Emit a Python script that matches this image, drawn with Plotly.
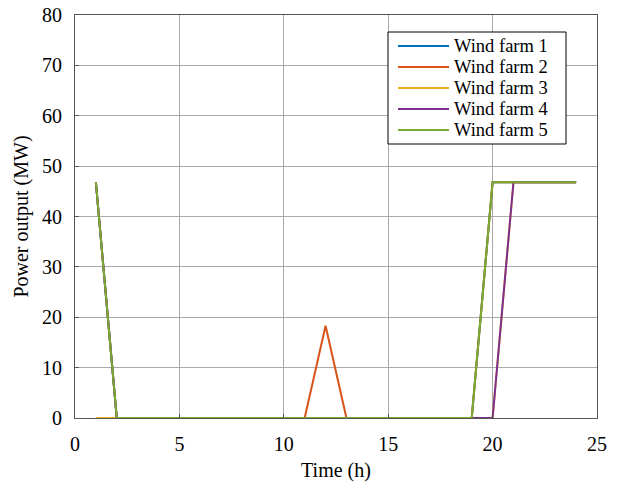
import plotly.graph_objects as go

hours = list(range(1, 25))
wf1 = [46.8, 0, 0, 0, 0, 0, 0, 0, 0, 0, 0, 0, 0, 0, 0, 0, 0, 0, 0, 46.8, 46.8, 46.8, 46.8, 46.8]
wf2 = [46.8, 0, 0, 0, 0, 0, 0, 0, 0, 0, 0, 18.3, 0, 0, 0, 0, 0, 0, 0, 46.8, 46.8, 46.8, 46.8, 46.8]
wf3 = [0, 0, 0, 0, 0, 0, 0, 0, 0, 0, 0, 0, 0, 0, 0, 0, 0, 0, 0, 0, 46.8, 46.8, 46.8, 46.8]
wf4 = [46.8, 0, 0, 0, 0, 0, 0, 0, 0, 0, 0, 0, 0, 0, 0, 0, 0, 0, 0, 0, 46.8, 46.8, 46.8, 46.8]
wf5 = [46.8, 0, 0, 0, 0, 0, 0, 0, 0, 0, 0, 0, 0, 0, 0, 0, 0, 0, 0, 46.8, 46.8, 46.8, 46.8, 46.8]

names = ["Wind farm 1", "Wind farm 2", "Wind farm 3", "Wind farm 4", "Wind farm 5"]
series = [wf1, wf2, wf3, wf4, wf5]
colors = ["#0072BD", "#D95319", "#EDB120", "#7E2F8E", "#77AC30"]

W, H = 618, 484
L, R, T, B = 75, 21, 15, 66
PW, PH = W - L - R, H - T - B


def px(xp):
    return (xp - L) / PW


def py(yp):
    return (H - B - yp) / PH


fig = go.Figure()
for n, s, c in zip(names, series, colors):
    fig.add_trace(go.Scatter(x=hours, y=s, mode="lines", name=n, showlegend=False,
                             line=dict(color=c, width=2)))

FAM = "Liberation Serif, Times New Roman, serif"
font = dict(family=FAM, size=20, color="black")

# legend drawn as a box with sample lines and labels
ROW0, ROWH = 46, 21
shapes = [dict(type="rect", xref="paper", yref="paper",
               x0=px(388), x1=px(566), y0=py(32), y1=py(ROW0 + 4 * ROWH + 14),
               line=dict(color="black", width=1), fillcolor="white", layer="above")]
annotations = []
for i, (n, c) in enumerate(zip(names, colors)):
    yc = ROW0 + ROWH * i
    shapes.append(dict(type="line", xref="paper", yref="paper",
                       x0=px(398), x1=px(449), y0=py(yc), y1=py(yc),
                       line=dict(color=c, width=2), layer="above"))
    annotations.append(dict(text=n, xref="paper", yref="paper", x=px(453), y=py(yc),
                            xanchor="left", yanchor="middle", showarrow=False,
                            borderpad=0,
                            font=dict(family=FAM, size=18.5, color="black")))

fig.update_layout(
    width=W, height=H,
    margin=dict(l=L, r=R, t=T, b=B),
    paper_bgcolor="white", plot_bgcolor="white",
    font=font, showlegend=False,
    shapes=shapes, annotations=annotations,
)
axis_common = dict(showline=True, linecolor="#555555", linewidth=1, mirror=True,
                   showgrid=True, gridcolor="#aaaaaa", gridwidth=1,
                   ticks="inside", ticklen=4, tickcolor="#555555",
                   zeroline=False, tickfont=font, automargin=False)
fig.update_xaxes(range=[0, 25], dtick=5, ticklabelstandoff=8,
                 title=dict(text="Time (h)", font=font, standoff=8), **axis_common)
fig.update_yaxes(range=[0, 80], dtick=10, ticklabelstandoff=8,
                 title=dict(text="Power output (MW)", font=font, standoff=8), **axis_common)

fig.write_html("out.html")
